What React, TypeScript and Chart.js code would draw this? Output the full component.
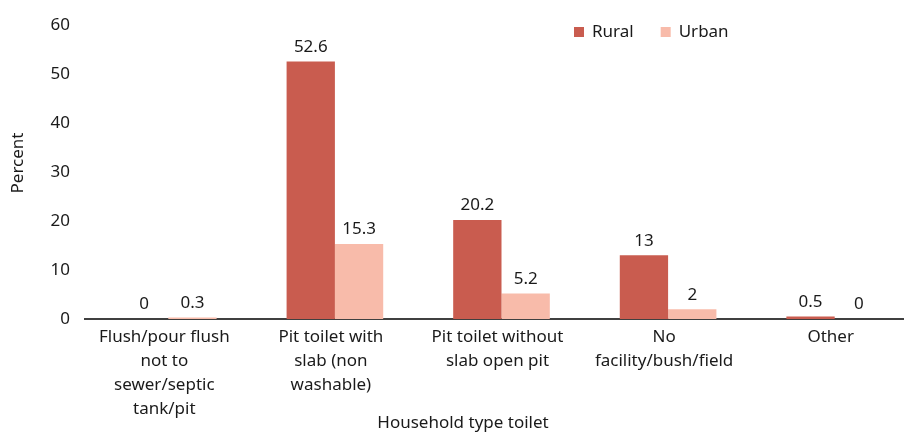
import React, { useEffect, useRef } from "react";
import { Chart, registerables } from "chart.js";

Chart.register(...registerables);

const categories: string[][] = [
  ["Flush/pour flush", "not to", "sewer/septic", "tank/pit"],
  ["Pit toilet with", "slab (non", "washable)"],
  ["Pit toilet without", "slab open pit"],
  ["No", "facility/bush/field"],
  ["Other"],
];
const rural: number[] = [0, 52.6, 20.2, 13, 0.5];
const urban: number[] = [0.3, 15.3, 5.2, 2, 0];
const seriesNames = ["Rural", "Urban"];
const colors = ["#C95C4F", "#F8BBAA"];
const yTicks = [0, 10, 20, 30, 40, 50, 60];
const xTitle = "Household type toilet";
const yTitle = "Percent";

const FONT = "'Noto Sans', sans-serif";
const SIZE = 17;
const TEXT = "#1a1a1a";

const valueLabels = {
  id: "valueLabels",
  afterDatasetsDraw(chart: any) {
    const ctx = chart.ctx;
    ctx.save();
    ctx.font = `${SIZE}px ${FONT}`;
    ctx.fillStyle = TEXT;
    ctx.textAlign = "center";
    ctx.textBaseline = "bottom";
    chart.data.datasets.forEach((ds: any, i: number) => {
      const meta = chart.getDatasetMeta(i);
      meta.data.forEach((bar: any, j: number) => {
        ctx.fillText(String(ds.data[j]), bar.x, bar.y - 6);
      });
    });
    ctx.restore();
  },
};

const customLegendAndTitles = {
  id: "customLegendAndTitles",
  afterDraw(chart: any) {
    const ctx = chart.ctx;
    ctx.save();
    ctx.font = `${SIZE}px ${FONT}`;
    ctx.textBaseline = "middle";
    ctx.textAlign = "left";
    let x = 574;
    const y = 32;
    chart.data.datasets.forEach((ds: any) => {
      ctx.fillStyle = ds.backgroundColor;
      ctx.fillRect(x, y - 5, 10, 10);
      ctx.fillStyle = TEXT;
      ctx.fillText(ds.label, x + 18, y);
      x += 18 + ctx.measureText(ds.label).width + 27;
    });
    // axis titles
    ctx.fillStyle = TEXT;
    ctx.textAlign = "center";
    ctx.fillText(xTitle, 463, 423);
    ctx.translate(18, 163);
    ctx.rotate(-Math.PI / 2);
    ctx.fillText(yTitle, 0, 0);
    ctx.restore();
  },
};

export default function App() {
  const ref = useRef<HTMLCanvasElement>(null);
  useEffect(() => {
    document.body.style.margin = "0";
    const chart = new Chart(ref.current!, {
      type: "bar",
      data: {
        labels: categories,
        datasets: [
          { label: seriesNames[0], data: rural, backgroundColor: colors[0] },
          { label: seriesNames[1], data: urban, backgroundColor: colors[1] },
        ],
      },
      options: {
        responsive: false,
        animation: false,
        devicePixelRatio: 1,
        layout: { padding: { top: 25, left: 0, right: 0, bottom: 0 } },
        datasets: { bar: { categoryPercentage: 0.58, barPercentage: 1.0 } },
        plugins: { legend: { display: false }, tooltip: { enabled: false } },
        scales: {
          x: {
            grid: { display: false, drawTicks: false },
            border: { display: true, color: "#404040", width: 2 },
            ticks: {
              color: TEXT,
              font: { family: FONT, size: SIZE, lineHeight: 1.41 },
              padding: 6,
              labelOffset: -4,
              maxRotation: 0,
              autoSkip: false,
            },
            afterFit(scale: any) {
              scale.height = 115;
            },
          },
          y: {
            min: 0,
            max: 60,
            afterBuildTicks(scale: any) {
              scale.ticks = yTicks.map((v) => ({ value: v }));
            },
            grid: { display: false, drawTicks: false },
            border: { display: false },
            ticks: {
              color: TEXT,
              font: { family: FONT, size: SIZE },
              padding: 15,
            },
            afterFit(scale: any) {
              scale.width = 85;
            },
          },
        },
      },
      plugins: [valueLabels, customLegendAndTitles],
    });
    return () => chart.destroy();
  }, []);
  return (
    <div style={{ width: 904, height: 434, overflow: "hidden" }}>
      <canvas ref={ref} width={918} height={434} style={{ width: 918, height: 434, display: "block" }} />
    </div>
  );
}
